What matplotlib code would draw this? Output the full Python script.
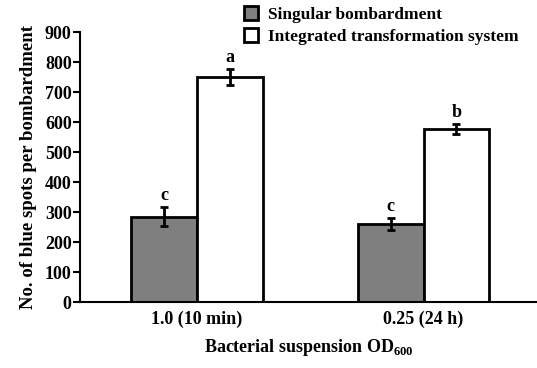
import numpy as np
import matplotlib
matplotlib.use("Agg")
import matplotlib.pyplot as plt

plt.rcParams["font.family"] = "Liberation Serif"
plt.rcParams["font.weight"] = "bold"
plt.rcParams["mathtext.fontset"] = "custom"
plt.rcParams["mathtext.rm"] = "Liberation Serif:bold"

categories = ["1.0 (10 min)", "0.25 (24 h)"]
series_names = ["Singular bombardment", "Integrated transformation system"]
singular = [285, 260]
singular_err = [33, 19]
integrated = [750, 577]
integrated_err = [26, 18]
singular_letters = ["c", "c"]
integrated_letters = ["a", "b"]

fig = plt.figure(figsize=(5.37, 3.68), dpi=100)
ax = fig.add_axes([0.149, 0.179, 0.851, 0.734])

x = np.arange(len(categories))
w = 0.29
err_kw = dict(ecolor="black", elinewidth=2, capsize=3, capthick=2)
b1 = ax.bar(x - w / 2, singular, w, yerr=singular_err, color="#7f7f7f",
            edgecolor="black", linewidth=2, error_kw=err_kw, label=series_names[0])
b2 = ax.bar(x + w / 2, integrated, w, yerr=integrated_err, color="white",
            edgecolor="black", linewidth=2, error_kw=err_kw, label=series_names[1])

for xi, v, e, t in zip(x - w / 2, singular, singular_err, singular_letters):
    ax.text(xi, v + e + 10, t, ha="center", va="bottom", fontsize=13, fontweight="bold")
for xi, v, e, t in zip(x + w / 2, integrated, integrated_err, integrated_letters):
    ax.text(xi, v + e + 10, t, ha="center", va="bottom", fontsize=13, fontweight="bold")

ax.set_xlim(-0.515, 1.5)
ax.set_ylim(0, 900)
ax.set_yticks(np.arange(0, 901, 100))
ax.set_xticks(x)
ax.set_xticklabels(categories)
ax.tick_params(axis="x", length=0, labelsize=13, pad=6)
ax.tick_params(axis="y", length=5, width=1.5, labelsize=13, pad=1)
for lab in ax.get_xticklabels() + ax.get_yticklabels():
    lab.set_fontweight("bold")
ax.spines["top"].set_visible(False)
ax.spines["right"].set_visible(False)
ax.spines["left"].set_linewidth(1.5)
ax.spines["bottom"].set_linewidth(1.5)

ax.set_ylabel("No. of blue spots per bombardment", fontsize=13.5, fontweight="bold", labelpad=6)
ax.set_xlabel(r"Bacterial suspension OD$_{600}$", fontsize=13, fontweight="bold", labelpad=7)

fig.legend(handles=[b1, b2], loc="upper left", bbox_to_anchor=(0.425, 1.025),
           frameon=False, fontsize=12.5, handlelength=0.8, handleheight=0.8,
           handletextpad=0.6, labelspacing=0.3)

fig.savefig("out.png", dpi=100)
